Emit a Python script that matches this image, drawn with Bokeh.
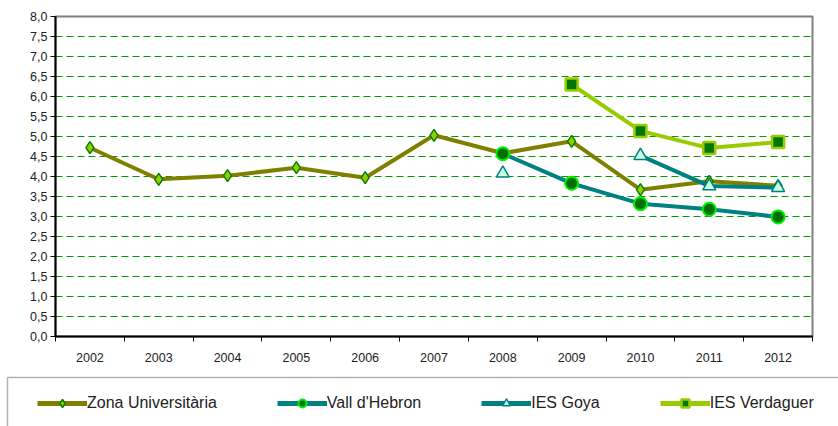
from bokeh.plotting import figure
from bokeh.models import Range1d, FixedTicker, BoxAnnotation, Legend
from bokeh.embed import file_html
from bokeh.resources import INLINE

years = [2002, 2003, 2004, 2005, 2006, 2007, 2008, 2009, 2010, 2011, 2012]
nan = float("nan")
zona = [4.72, 3.93, 4.02, 4.22, 3.97, 5.03, 4.58, 4.88, 3.67, 3.88, 3.77]
vall = [nan, nan, nan, nan, nan, nan, 4.57, 3.83, 3.32, 3.18, 2.99]
goya = [nan, nan, nan, nan, nan, nan, 4.08, nan, 4.52, 3.76, 3.72]
verd = [nan, nan, nan, nan, nan, nan, nan, 6.30, 5.14, 4.71, 4.86]
y_ticks = [i * 0.5 for i in range(17)]
names = ["Zona Universitària", "Vall d'Hebron", "IES Goya", "IES Verdaguer"]

styles = [
    dict(line_color="#808000", marker="diamond", size=12, fill_color="#99cc00",
         mline="#008000", mwidth=1.5),
    dict(line_color="#008080", marker="circle", size=13, fill_color="#007000",
         mline="#00ee00", mwidth=2),
    dict(line_color="#008080", marker="triangle", size=13, fill_color="#ccffe0",
         mline="#008080", mwidth=1.5),
    dict(line_color="#99cc00", marker="square", size=12, fill_color="#007700",
         mline="#99cc00", mwidth=2.5),
]
series = [zona, vall, goya, verd]

p = figure(width=838, height=370, output_backend="svg", toolbar_location=None,
           x_range=Range1d(2001.5, 2012.5), y_range=Range1d(0, 8),
           min_border_left=55, min_border_top=16, min_border_right=26, min_border_bottom=34)
p.background_fill_color = "white"
p.border_fill_color = "white"
p.outline_line_color = "#808080"
p.outline_line_width = 2

p.xaxis.ticker = FixedTicker(ticks=years, minor_ticks=[y - 0.5 for y in years] + [2012.5])
p.xaxis.major_tick_out = 0
p.xaxis.major_tick_in = 0
p.xaxis.minor_tick_out = 5
p.xaxis.minor_tick_in = 0
p.xaxis.minor_tick_line_color = "black"
p.xaxis.minor_tick_line_width = 1
p.xaxis.axis_line_color = "black"
p.xaxis.axis_line_width = 2
p.xaxis.major_label_text_font = "Liberation Sans"
p.xaxis.major_label_text_font_size = "12.5px"
p.xaxis.major_label_text_color = "#222222"
p.xaxis.major_label_standoff = 11

p.yaxis.ticker = FixedTicker(ticks=y_ticks)
p.yaxis.major_label_overrides = {t: f"{t:.1f}".replace(".", ",") for t in y_ticks}
p.yaxis.major_tick_out = 5
p.yaxis.major_tick_in = 0
p.yaxis.minor_tick_line_color = None
p.yaxis.axis_line_color = "black"
p.yaxis.axis_line_width = 2
p.yaxis.major_tick_line_width = 1
p.yaxis.major_label_text_font = "Liberation Sans"
p.yaxis.major_label_text_font_size = "12.5px"
p.yaxis.major_label_text_color = "#222222"
p.yaxis.major_label_standoff = 3

p.xgrid.grid_line_color = None
p.ygrid.ticker = FixedTicker(ticks=y_ticks[1:-1])
p.ygrid.grid_line_color = "#009900"
p.ygrid.grid_line_width = 1
p.ygrid.grid_line_dash = "7 4"

for vals, st in zip(series, styles):
    p.line(years, vals, line_color=st["line_color"], line_width=4)
    p.scatter(years, vals, marker=st["marker"], size=st["size"], fill_color=st["fill_color"],
              line_color=st["mline"], line_width=st["mwidth"])

# legend panel: a separate root figure whose frame is the whole canvas
q = figure(width=838, height=56, output_backend="svg", toolbar_location=None,
           x_range=Range1d(2001.5, 2012.5), y_range=Range1d(100, 101),
           x_axis_location=None, y_axis_location=None,
           min_border_left=0, min_border_top=0, min_border_right=0, min_border_bottom=0)
q.grid.visible = False
q.outline_line_color = None
q.background_fill_color = "white"
q.border_fill_color = "white"

items = []
for name, vals, st in zip(names, series, styles):
    rl = q.line(years, vals, line_color=st["line_color"], line_width=5)
    rm = q.scatter(years, vals, marker=st["marker"], size=st["size"] - 2,
                   fill_color=st["fill_color"], line_color=st["mline"], line_width=st["mwidth"])
    items.append((name, [rl, rm]))

legend = Legend(items=items, orientation="horizontal", location=(37, 13),
                border_line_color=None, background_fill_alpha=0,
                padding=0, margin=0, spacing=60, label_standoff=0,
                glyph_width=50, glyph_height=20,
                label_text_font="Liberation Sans",
                label_text_font_size="16px", label_text_color="#222222")
q.add_layout(legend, "center")

box = BoxAnnotation(left=7, right=900, top=7, bottom=200,
                    left_units="canvas", right_units="canvas",
                    top_units="canvas", bottom_units="canvas",
                    fill_alpha=0, line_color="black", line_width=1.5)
q.add_layout(box)

open("out.html", "w").write(file_html([p, q], INLINE))
